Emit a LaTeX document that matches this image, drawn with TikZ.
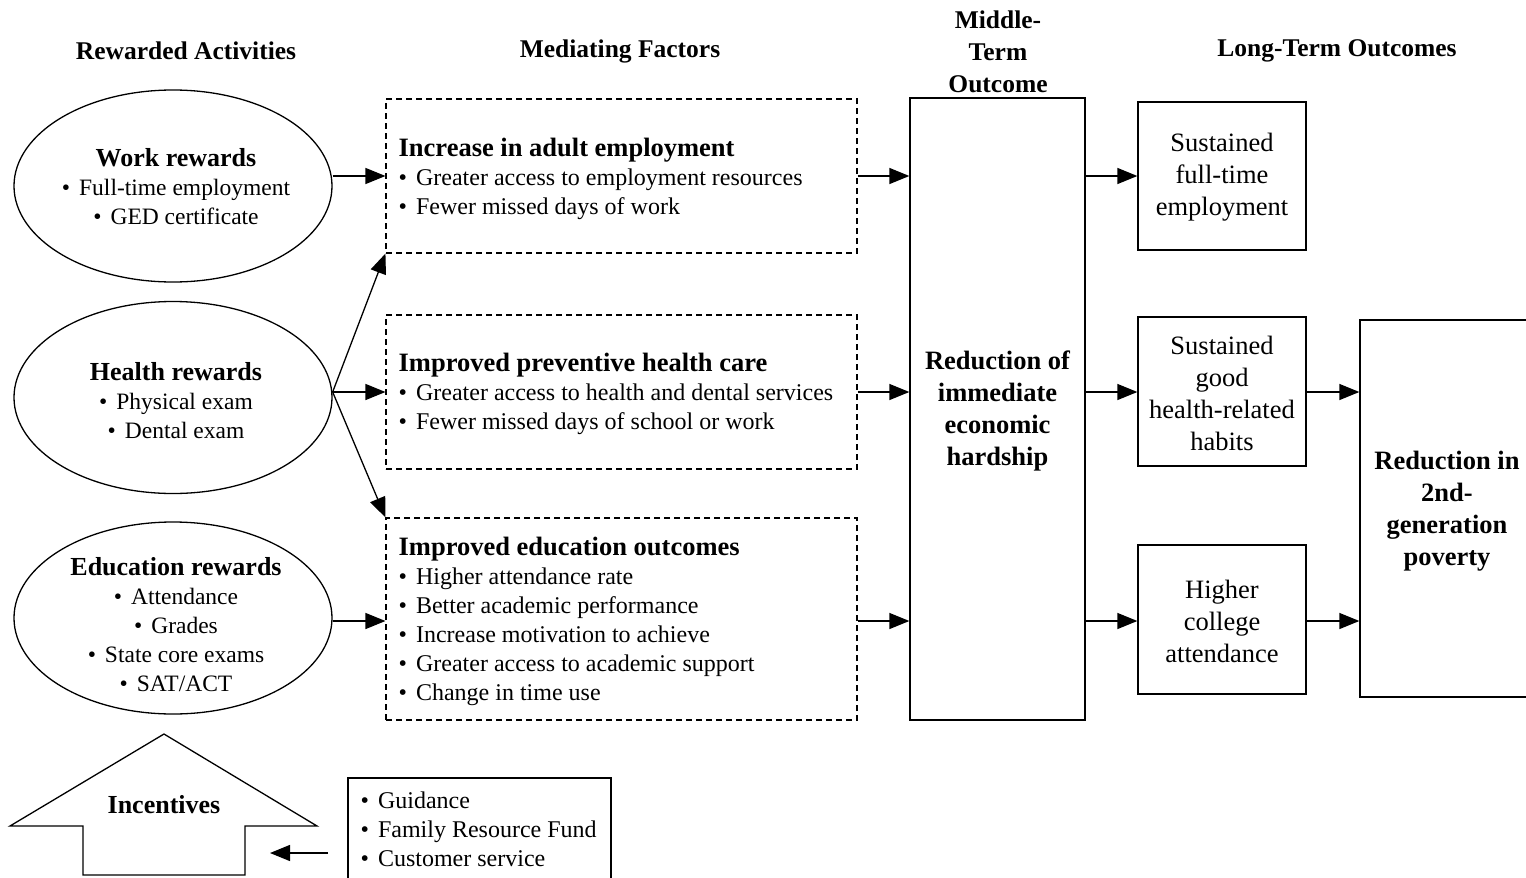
\documentclass[tikz,border=0pt]{standalone}
\usepackage{fontspec}
\setmainfont{Liberation Serif}
\usetikzlibrary{shapes.geometric,arrows.meta,calc}
\newcommand{\bul}{\textbullet\hspace{9pt}}
\begin{document}
\begin{tikzpicture}[x=1pt,y=-1pt,
  line width=1.3pt,
  oval/.style={draw, ellipse, minimum width=318pt, minimum height=192pt, inner sep=0pt},
  dbox/.style={draw, dash pattern=on 6pt off 4pt, line width=1.1pt, minimum width=471pt, inner sep=0pt},
  sbox/.style={draw, inner sep=0pt},
  colhead/.style={font=\fontsize{25.5}{32}\selectfont\bfseries, align=center, inner sep=0pt},
  bodytxt/.style={font=\fontsize{24}{29}\selectfont, align=left, inner sep=0pt, anchor=west},
  ovaltxt/.style={font=\fontsize{23.5}{29}\selectfont, align=center, inner sep=0pt},
  lttxt/.style={font=\fontsize{26.5}{32}\selectfont, align=center, inner sep=0pt},
  bigtxt/.style={font=\fontsize{26.5}{32}\selectfont\bfseries, align=center, inner sep=0pt},
  flow/.style={-{Triangle[length=20pt,width=16pt]}, line width=1.3pt}
]
\path[use as bounding box, clip] (0,0) rectangle (1526,878);

% column headings
\node[colhead] (h1) at (186,51) {Rewarded Activities};
\node[colhead] (h2) at (620,51) {Mediating Factors};
\node[colhead] (h3) at (998,51.5) {Middle-\\Term\\Outcome};
\node[colhead] (h4) at (1337,51) {Long-Term Outcomes};

% rewarded activities
\node[oval] (work) at (173,186) {};
\node[oval] (hlth) at (173,397.5) {};
\node[oval] (edu)  at (173,618) {};
\node[ovaltxt] (workt) at (176,187) {{\fontsize{26}{30}\selectfont\bfseries Work rewards}\\
  \bul Full-time employment\\ \bul GED certificate};
\node[ovaltxt] (hlttt) at (176,400.5) {{\fontsize{26}{30}\selectfont\bfseries Health rewards}\\
  \bul Physical exam\\ \bul Dental exam};
\node[ovaltxt] (edut) at (176,624.5) {{\fontsize{26}{30}\selectfont\bfseries Education rewards}\\
  \bul Attendance\\ \bul Grades\\ \bul State core exams\\ \bul SAT/ACT};

% mediating factors
\node[dbox, minimum height=154pt] (m1) at (621.5,176) {};
\node[dbox, minimum height=154pt] (m2) at (621.5,392) {};
\node[dbox, minimum height=202pt] (m3) at (621.5,619) {};
\node[bodytxt] (m1t) at (398,178.5) {{\fontsize{26.5}{30}\selectfont\bfseries Increase in adult employment}\\
  \bul Greater access to employment resources\\ \bul Fewer missed days of work};
\node[bodytxt] (m2t) at (398,393.5) {{\fontsize{26.5}{30}\selectfont\bfseries Improved preventive health care}\\
  \bul Greater access to health and dental services\\ \bul Fewer missed days of school or work};
\node[bodytxt] (m3t) at (398,621.5) {{\fontsize{26.5}{30}\selectfont\bfseries Improved education outcomes}\\
  \bul Higher attendance rate\\ \bul Better academic performance\\
  \bul Increase motivation to achieve\\ \bul Greater access to academic support\\
  \bul Change in time use};

% middle-term outcome
\node[sbox, minimum width=175pt, minimum height=622pt] (mid) at (997.5,409) {};
\node[bigtxt] (midt) at (997.5,411) {Reduction of\\immediate\\economic\\hardship};

% long-term outcomes
\node[sbox, minimum width=168pt, minimum height=148pt] (la) at (1222,176) {};
\node[sbox, minimum width=168pt, minimum height=149pt] (lb) at (1222,391.5) {};
\node[sbox, minimum width=168pt, minimum height=149pt] (lc) at (1222,619.5) {};
\node[lttxt] (lat) at (1222,177.5) {Sustained\\full-time\\employment};
\node[lttxt] (lbt) at (1222,393) {Sustained\\good\\health-related\\habits};
\node[lttxt] (lct) at (1222,621) {Higher\\college\\attendance};
\node[sbox, minimum width=172pt, minimum height=377pt] (far) at (1446,508.5) {};
\node[bigtxt] (fart) at (1447,511) {Reduction in\\2nd-\\generation\\poverty};

% incentives
\draw[line width=1.3pt] (164,734) -- (317,826) -- (245,826) -- (245,875) -- (83,875)
  -- (83,826) -- (10,826) -- cycle;
\node[font=\fontsize{26}{30}\selectfont\bfseries, inner sep=0pt] (inc) at (164,805) {Incentives};
\node[sbox, minimum width=263pt, minimum height=107pt] (sup) at (479.5,831.5) {};
\node[bodytxt] (supt) at (360,829.5) {\bul Guidance\\ \bul Family Resource Fund\\ \bul Customer service};
\coordinate (sa) at (328,853);
\coordinate (sb) at (270,853);
\draw[flow] (sa) -- (sb);

% connectors
\draw[flow] (work.east |- m1.west) -- (m1.west);
\draw[flow] (hlth.east |- m2.west) -- (m2.west);
\draw[flow] (hlth.east |- m2.west) -- (m1.south west);
\draw[flow] (hlth.east |- m2.west) -- (m3.north west);
\draw[flow] (edu.east |- 0,621) -- (m3.west |- 0,621);
\draw[flow] (m1.east) -- (mid.west |- m1.east);
\draw[flow] (m2.east) -- (mid.west |- m2.east);
\draw[flow] (m3.east |- 0,621) -- (mid.west |- 0,621);
\draw[flow] (mid.east |- m1.east) -- (la.west);
\draw[flow] (mid.east |- m2.east) -- (lb.west |- m2.east);
\draw[flow] (mid.east |- 0,621) -- (lc.west |- 0,621);
\draw[flow] (lb.east |- m2.east) -- (far.west |- m2.east);
\draw[flow] (lc.east |- 0,621) -- (far.west |- 0,621);
\end{tikzpicture}
\end{document}
